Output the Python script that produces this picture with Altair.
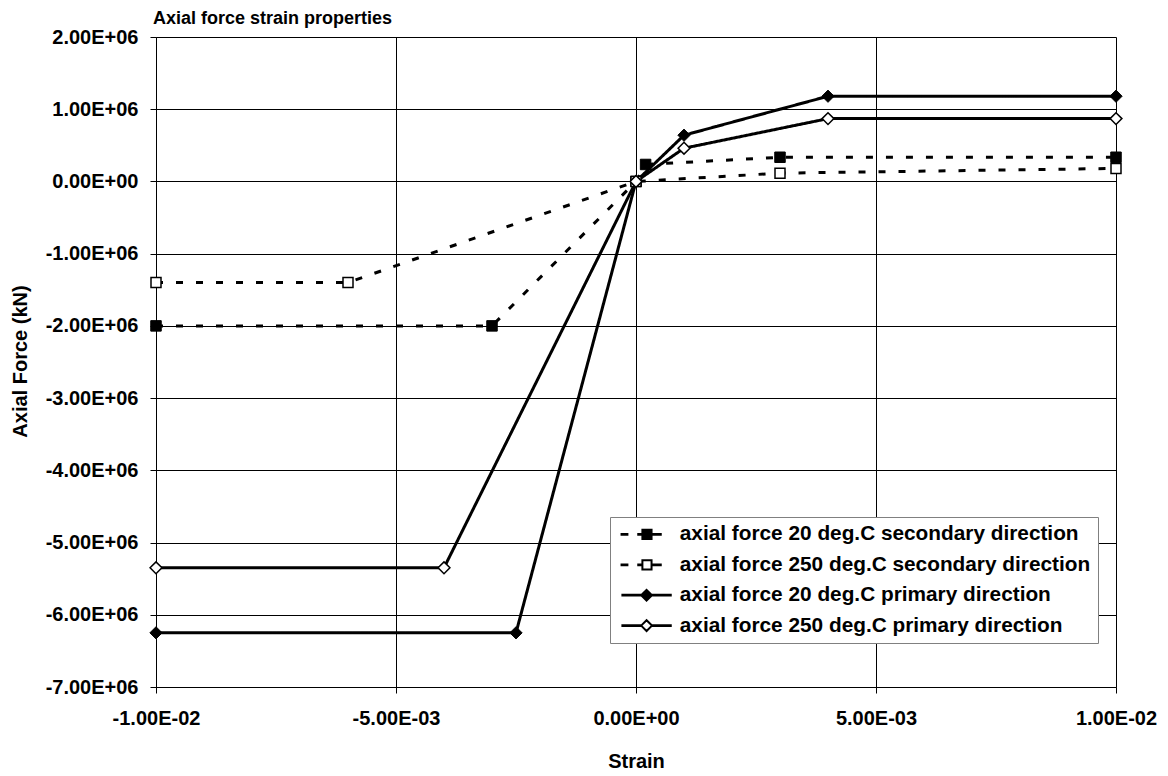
import altair as alt
import pandas as pd

# ---- data -------------------------------------------------------------
series_names = [
    "axial force 20 deg.C secondary direction",
    "axial force 250 deg.C secondary direction",
    "axial force 20 deg.C primary direction",
    "axial force 250 deg.C primary direction",
]

strain_20_sec = [-0.01, -0.003, 0.0, 0.0002, 0.003, 0.01]
force_20_sec = [-2.0e6, -2.0e6, 0.0, 2.35e5, 3.35e5, 3.35e5]

strain_250_sec = [-0.01, -0.006, 0.0, 0.003, 0.01]
force_250_sec = [-1.4e6, -1.4e6, 0.0, 1.15e5, 1.8e5]

strain_20_pri = [-0.01, -0.0025, 0.0, 0.001, 0.004, 0.01]
force_20_pri = [-6.25e6, -6.25e6, 0.0, 6.4e5, 1.18e6, 1.18e6]

strain_250_pri = [-0.01, -0.004, 0.0, 0.001, 0.004, 0.01]
force_250_pri = [-5.35e6, -5.35e6, 0.0, 4.6e5, 8.7e5, 8.7e5]

x_ticks = [-0.01, -0.005, 0.0, 0.005, 0.01]
y_ticks = [2e6, 1e6, 0.0, -1e6, -2e6, -3e6, -4e6, -5e6, -6e6, -7e6]

# ---- table ------------------------------------------------------------
frames = []
for name, xs, ys in [
    (series_names[0], strain_20_sec, force_20_sec),
    (series_names[1], strain_250_sec, force_250_sec),
    (series_names[2], strain_20_pri, force_20_pri),
    (series_names[3], strain_250_pri, force_250_pri),
]:
    frames.append(pd.DataFrame({"series": name, "strain": xs, "force": ys}))
df = pd.concat(frames, ignore_index=True)

FONT = "Liberation Sans"

# Excel-style scientific labels, e.g. 2.00E+06, -5.00E-03
_exp = "floor(log(abs(datum.value)) / LN10 + 1e-9)"
sci_expr = (
    "datum.value == 0 ? '0.00E+00' : "
    "(datum.value < 0 ? '-' : '') + "
    f"format(abs(datum.value) / pow(10, {_exp}), '.2f') + 'E' + "
    f"({_exp} < 0 ? '-' : '+') + "
    f"(abs({_exp}) < 10 ? '0' : '') + abs({_exp})"
)

x_scale = alt.Scale(domain=[-0.01, 0.01], nice=False, zero=False)
y_scale = alt.Scale(domain=[-7e6, 2e6], nice=False, zero=False)

x_enc = alt.X(
    "strain:Q",
    scale=x_scale,
    axis=alt.Axis(
        values=x_ticks,
        labelExpr=sci_expr,
        title="Strain",
        titleX=480,
        titleY=74,
        titleBaseline="middle",
        labelPadding=15,
    ),
)
y_enc = alt.Y(
    "force:Q",
    scale=y_scale,
    axis=alt.Axis(
        values=y_ticks,
        labelExpr=sci_expr,
        title="Axial Force (kN)",
        titleX=-136,
        titleY=324,
        titleAngle=-90,
        titleBaseline="middle",
        titleAlign="center",
        labelPadding=12,
    ),
)

# per-series styling: dash pattern, marker shape, fill, marker size, outline width
series_style = [
    dict(dash=[7, 13], shape="square", fill="black", size=110, sw=1),
    dict(dash=[7, 13], shape="square", fill="white", size=100, sw=1.5),
    dict(dash=[1, 0], shape="diamond", fill="black", size=150, sw=1),
    dict(dash=[1, 0], shape="diamond", fill="white", size=140, sw=1.5),
]

line_layers = []
point_layers = []
for name, st in zip(series_names, series_style):
    base = alt.Chart(df).transform_filter(alt.datum.series == name)
    line_layers.append(
        base.mark_line(color="black", strokeWidth=3, strokeDash=st["dash"]).encode(
            x=x_enc, y=y_enc
        )
    )
    point_layers.append(
        base.mark_point(
            shape=st["shape"],
            filled=True,
            fill=st["fill"],
            stroke="black",
            strokeWidth=st["sw"],
            size=st["size"],
            opacity=1,
        ).encode(x=x_enc, y=y_enc)
    )

# Legend glyphs: line segments with the marker in the middle (path units = 6 px)
sq_path = (
    "M-1.17,-0.08L0,-0.08L0,0.08L-1.17,0.08Z "
    "M2.17,-0.08L3,-0.08L3,0.08L2.17,0.08Z "
    "M3,-0.92L4.83,-0.92L4.83,0.92L3,0.92Z "
    "M4.83,-0.08L6.67,-0.08L6.67,0.08L4.83,0.08Z"
)
dia_path = (
    "M-1,-0.08L2.75,-0.08L2.75,0.08L-1,0.08Z "
    "M2.75,0L3.83,-1.08L4.92,0L3.83,1.08Z "
    "M4.92,-0.08L8.67,-0.08L8.67,0.08L4.92,0.08Z"
)

legend_props = dict(
    title=None,
    orient="none",
    legendX=454,
    legendY=480,
    symbolOpacity=1,
)

# Invisible layer that only carries the legend
legend_layer = (
    alt.Chart(df)
    .mark_point(filled=True, strokeWidth=2, opacity=0, size=144)
    .encode(
        x=x_enc,
        y=y_enc,
        shape=alt.Shape(
            "series:N",
            scale=alt.Scale(domain=series_names, range=[sq_path, sq_path, dia_path, dia_path]),
            legend=alt.Legend(**legend_props),
        ),
        fill=alt.Fill(
            "series:N",
            scale=alt.Scale(domain=series_names, range=["black", "white", "black", "white"]),
            legend=alt.Legend(**legend_props),
        ),
        stroke=alt.Stroke(
            "series:N",
            scale=alt.Scale(domain=series_names, range=["black", "black", "black", "black"]),
            legend=alt.Legend(**legend_props),
        ),
    )
)

chart = (
    alt.layer(*line_layers, *point_layers, legend_layer)
    .properties(
        width=960,
        height=650,
        title=alt.TitleParams(
            "Axial force strain properties",
            anchor="start",
            frame="group",
            dx=-3,
            dy=3,
            offset=2,
            font=FONT,
            fontSize=18,
            fontWeight="bold",
            color="black",
        ),
        autosize=alt.AutoSizeParams(type="none"),
        padding={"left": 156, "top": 37, "right": 52, "bottom": 89},
    )
    .configure_view(stroke=None)
    .configure_axis(
        labelFont=FONT,
        labelFontSize=20,
        labelFontWeight="bold",
        labelColor="black",
        titleFont=FONT,
        titleFontSize=20,
        titleFontWeight="bold",
        titleColor="black",
        gridColor="black",
        gridOpacity=1,
        gridWidth=1,
        domainColor="black",
        domainWidth=1,
        tickColor="black",
        tickSize=6,
        tickWidth=1,
        labelOverlap=False,
        labelFlush=False,
    )
    .configure_legend(
        padding=7,
        strokeColor="#808080",
        fillColor="white",
        labelFont=FONT,
        labelFontSize=20.8,
        labelFontWeight="bold",
        labelColor="black",
        labelLimit=1000,
        labelOffset=42,
        rowPadding=8.4,
        symbolStrokeColor="black",
        symbolStrokeWidth=2,
    )
)

chart.save("out.html", embed_options={"renderer": "svg", "actions": False})
